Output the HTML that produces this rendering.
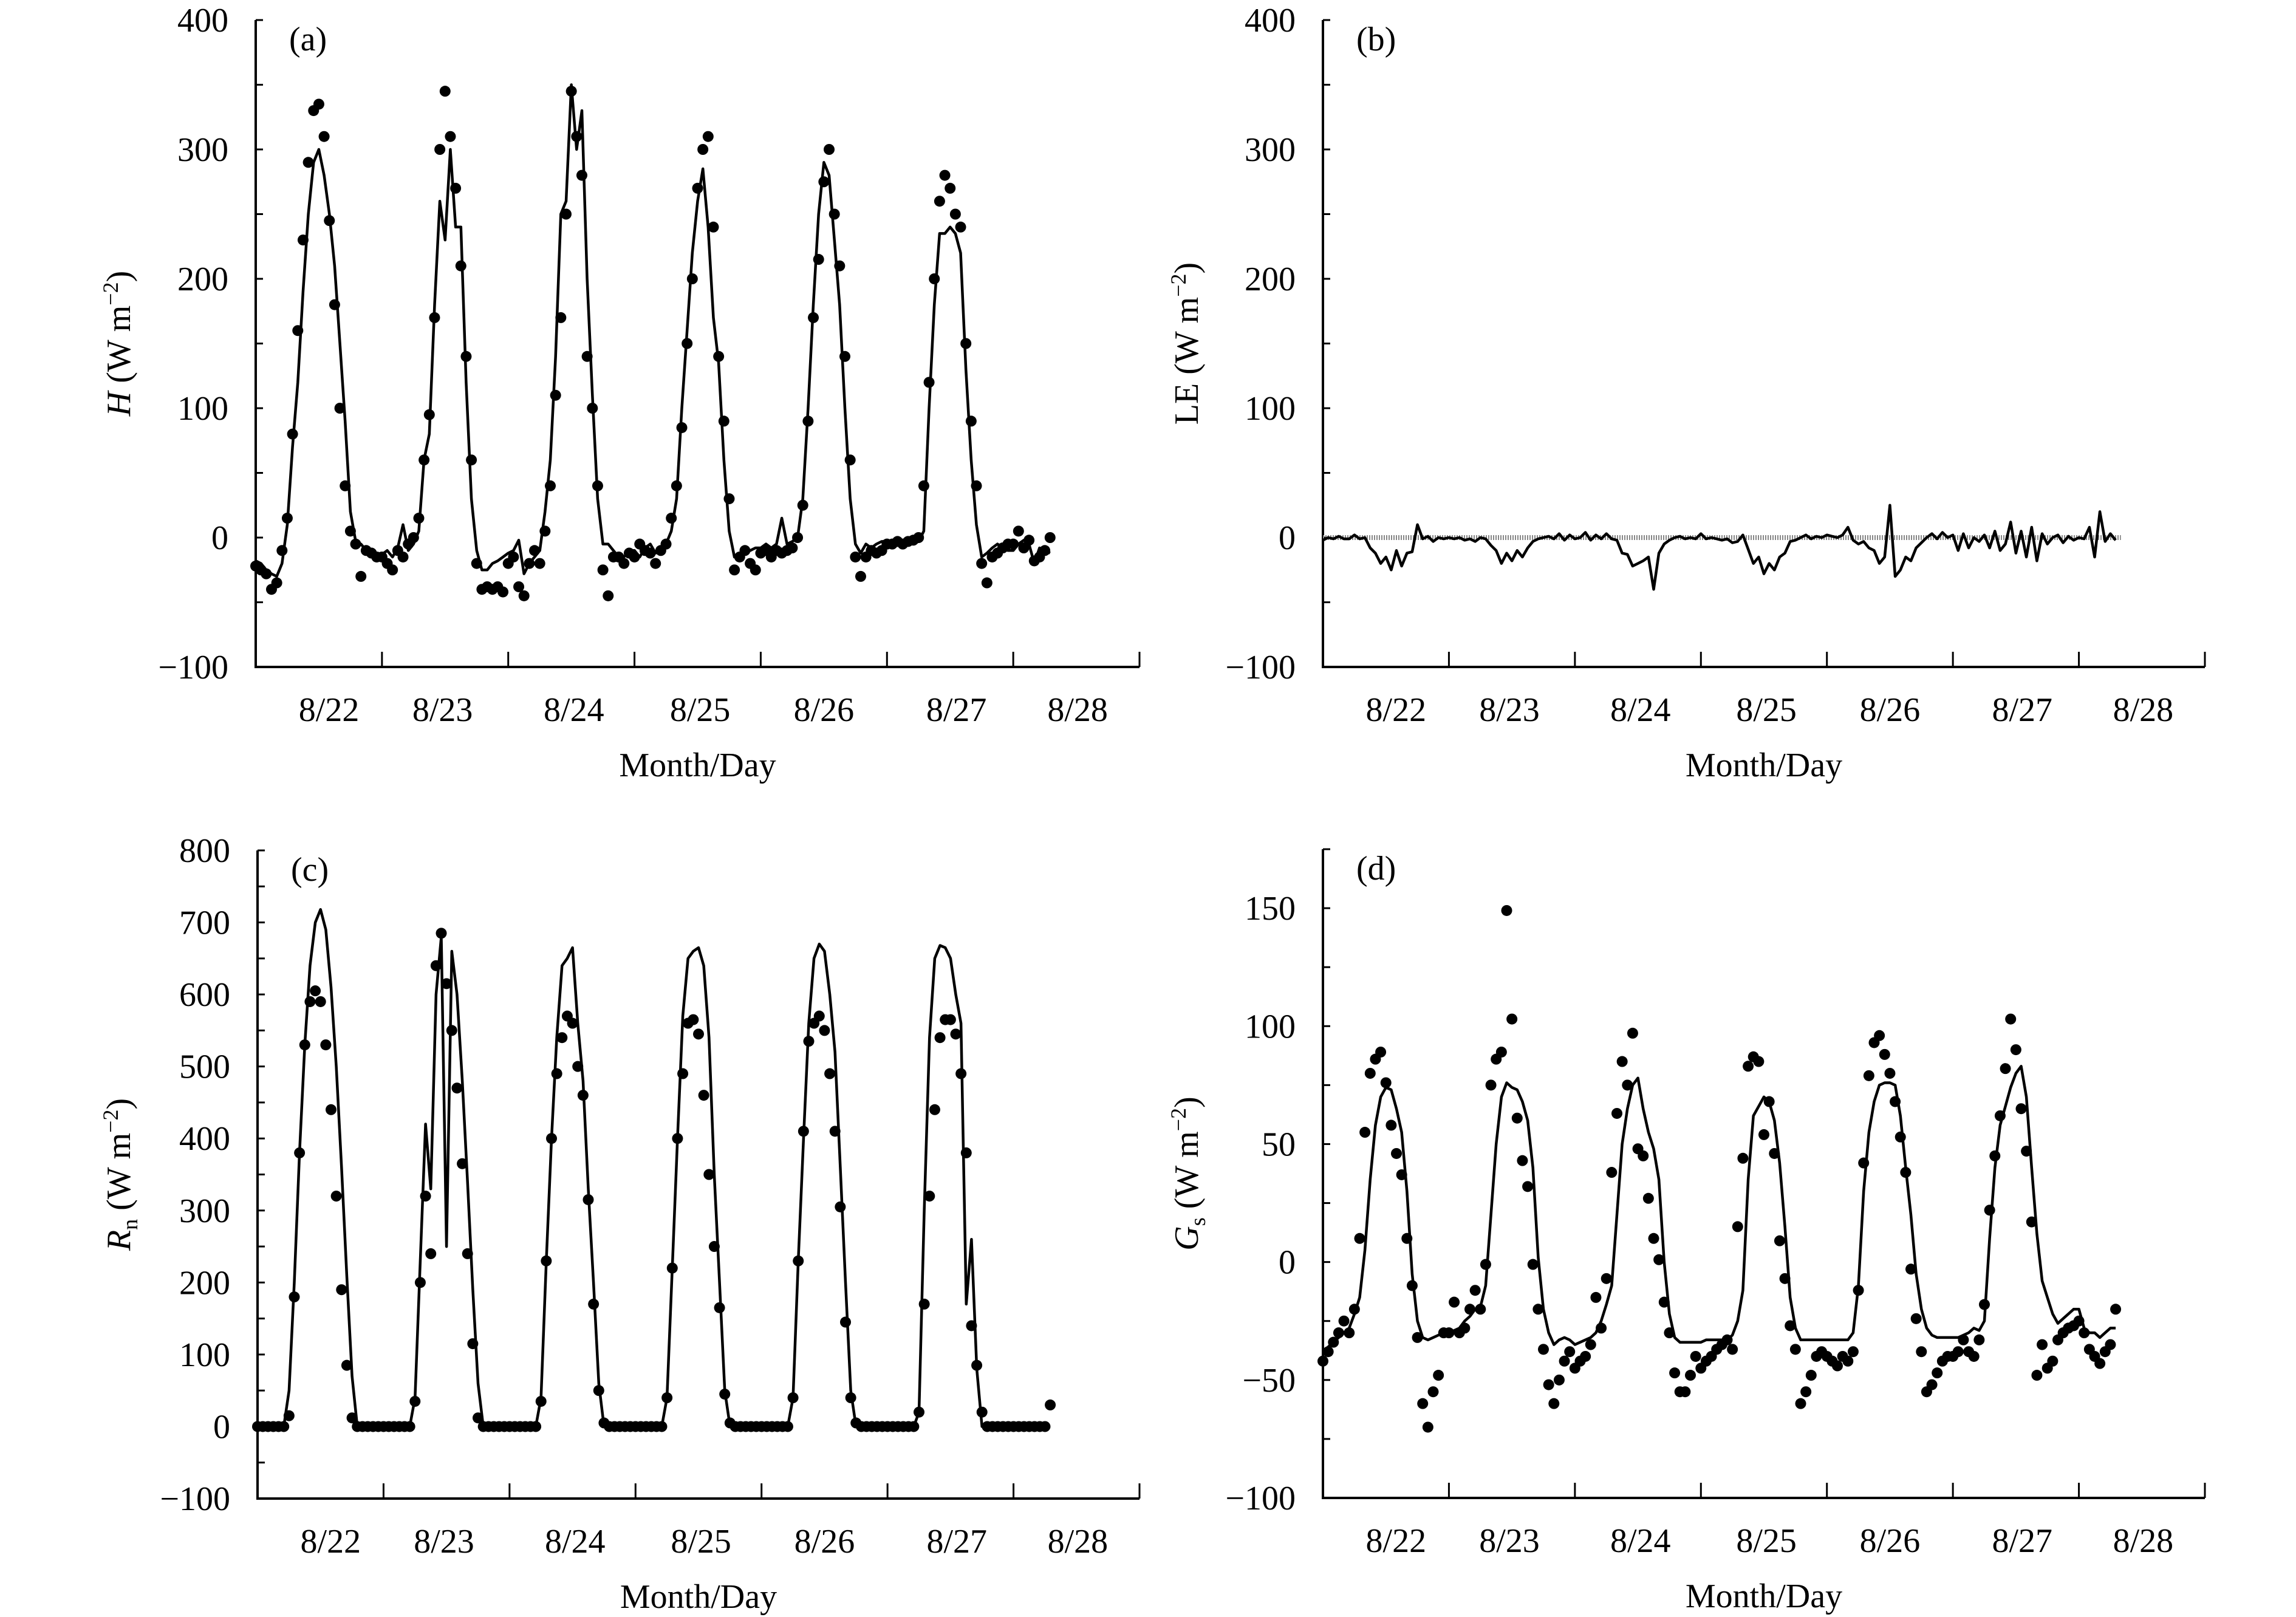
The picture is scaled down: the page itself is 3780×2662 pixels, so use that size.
<!DOCTYPE html>
<html><head><meta charset="utf-8"><title>Energy flux panels</title>
<style>
html,body{margin:0;padding:0;background:#fff;}
svg{display:block;font-family:"Liberation Serif",serif;}
</style></head>
<body>
<svg id="fig" xmlns="http://www.w3.org/2000/svg" width="3780" height="2662" viewBox="0 0 3780 2662"></svg>
<script>
// ---------- data (hourly, t = index/24 days from axis start) ----------
const dayLabels = ["8/22","8/23","8/24","8/25","8/26","8/27","8/28"];
const hLine = [
-18,-20,-25,-28,-30,-20,10,70,120,190,250,290,300,280,250,210,150,90,20,-3,-5,-10,-12,-14,
-13,-10,-15,-8,10,-10,-5,5,60,80,180,260,230,300,240,240,120,30,-10,-25,-25,-20,-18,-15,
-12,-10,-2,-28,-20,-15,-10,20,60,140,250,260,350,300,330,200,110,30,-5,-5,-10,-15,-15,-10,
-10,-15,-8,-5,-12,-10,-5,5,30,100,160,220,260,285,240,170,135,60,5,-15,-15,-12,-10,-8,
-8,-5,-8,-5,15,-5,-3,0,30,100,180,250,290,280,230,180,100,30,-5,-12,-5,-8,-5,-3,
-3,-5,-3,-5,-3,-5,-3,5,100,180,235,235,240,235,220,130,60,10,-15,-12,-8,-5,-8,-10,
-10,-5,-2,-5,-20,-8,-10,-12];
const hDots = [
-22,-25,-28,-40,-35,-10,15,80,160,230,290,330,335,310,245,180,100,40,5,-5,-30,-10,-12,-15,
-15,-20,-25,-10,-15,-5,0,15,60,95,170,300,345,310,270,210,140,60,-20,-40,-38,-40,-38,-42,
-20,-15,-38,-45,-20,-10,-20,5,40,110,170,250,345,310,280,140,100,40,-25,-45,-15,-15,-20,-12,
-15,-5,-10,-12,-20,-10,-5,15,40,85,150,200,270,300,310,240,140,90,30,-25,-15,-10,-20,-25,
-12,-10,-15,-10,-12,-10,-8,0,25,90,170,215,275,300,250,210,140,60,-15,-30,-15,-10,-12,-10,
-5,-5,-3,-5,-3,-2,0,40,120,200,260,280,270,250,240,150,90,40,-20,-35,-15,-12,-8,-5,
-5,5,-8,-2,-18,-15,-10,0];
const leLine = [
-2,0,-1,1,-1,-1,2,-1,0,-8,-12,-20,-15,-25,-10,-22,-12,-11,10,-1,1,-3,0,-1,
0,-1,0,-2,-1,-3,0,-1,-6,-10,-20,-12,-18,-10,-15,-8,-3,-1,0,1,-1,3,-2,2,
-1,0,4,-2,2,-1,3,-1,-2,-12,-13,-22,-20,-18,-15,-40,-12,-5,-2,0,1,-1,0,-1,
3,-1,0,-1,-2,-1,-4,-3,2,-9,-20,-15,-28,-20,-25,-15,-12,-3,-2,0,2,-1,1,0,
2,1,0,2,8,-2,-5,-3,-8,-10,-20,-15,25,-30,-25,-15,-18,-8,-4,0,3,-1,4,0,
2,-10,3,-8,0,-3,2,-8,5,-10,-5,12,-12,5,-15,8,-18,3,-5,0,2,-4,1,-2,
0,-1,8,-15,20,-3,3,-2];
const rnLine = [
0,0,0,0,0,0,50,200,380,530,640,700,718,690,610,500,360,210,70,0,0,0,0,0,
0,0,0,0,0,0,40,230,420,330,600,680,250,660,600,480,340,190,60,0,0,0,0,0,
0,0,0,0,0,0,40,230,400,540,640,650,665,560,480,330,200,60,0,0,0,0,0,0,
0,0,0,0,0,0,40,220,400,570,650,660,665,640,540,350,200,50,0,0,0,0,0,0,
0,0,0,0,0,0,40,230,400,560,650,670,660,600,520,360,200,50,0,0,0,0,0,0,
0,0,0,0,0,0,20,300,540,650,668,665,650,600,560,170,260,80,0,0,0,0,0,0,
0,0,0,0,0,0,0,0];
const rnDots = [
0,0,0,0,0,0,15,180,380,530,590,605,590,530,440,320,190,85,12,0,0,0,0,0,
0,0,0,0,0,0,35,200,320,240,640,685,615,550,470,365,240,115,12,0,0,0,0,0,
0,0,0,0,0,0,35,230,400,490,540,570,560,500,460,315,170,50,5,0,0,0,0,0,
0,0,0,0,0,0,40,220,400,490,560,565,545,460,350,250,165,45,5,0,0,0,0,0,
0,0,0,0,0,0,40,230,410,535,560,570,550,490,410,305,145,40,5,0,0,0,0,0,
0,0,0,0,0,0,20,170,320,440,540,565,565,545,490,380,140,85,20,0,0,0,0,0,
0,0,0,0,0,0,0,30];
const gsLine = [
-38,-36,-34,-32,-30,-28,-22,-15,5,35,58,70,74,73,65,55,30,-5,-25,-32,-33,-32,-31,-30,
-30,-29,-28,-25,-23,-20,-19,-10,20,50,70,76,74,73,68,60,40,2,-20,-30,-35,-33,-32,-33,
-35,-34,-33,-32,-30,-25,-18,-10,20,50,65,75,78,65,55,48,35,0,-22,-32,-34,-34,-34,-34,
-34,-33,-33,-33,-33,-33,-31,-25,-12,35,62,66,70,68,60,42,15,-15,-28,-33,-33,-33,-33,-33,
-33,-33,-33,-33,-33,-30,-10,30,55,68,75,76,76,75,62,40,20,-5,-20,-28,-31,-32,-32,-32,
-32,-32,-31,-30,-28,-29,-25,10,40,58,66,74,80,83,70,40,12,-8,-15,-22,-26,-24,-22,-20,
-20,-28,-30,-30,-32,-30,-28,-28];
const gsDots = [
-42,-38,-34,-30,-25,-30,-20,10,55,80,86,89,76,58,46,37,10,-10,-32,-60,-70,-55,-48,-30,
-30,-17,-30,-28,-20,-12,-20,-1,75,86,89,149,103,61,43,32,-1,-20,-37,-52,-60,-50,-42,-38,
-45,-42,-40,-35,-15,-28,-7,38,63,85,75,97,48,45,27,10,1,-17,-30,-47,-55,-55,-48,-40,
-45,-42,-40,-37,-35,-33,-37,15,44,83,87,85,54,68,46,9,-7,-27,-37,-60,-55,-48,-40,-38,
-40,-42,-44,-40,-42,-38,-12,42,79,93,96,88,80,68,53,38,-3,-24,-38,-55,-52,-47,-42,-40,
-40,-38,-33,-38,-40,-33,-18,22,45,62,82,103,90,65,47,17,-48,-35,-45,-42,-33,-30,-28,-27,
-25,-30,-37,-40,-43,-38,-35,-20];
const aTicks = [-100,0,100,200,300,400];
const cTicks = [-100,0,100,200,300,400,500,600,700,800];
const dTicks = [-100,-50,0,50,100,150];

// ---------- drawing ----------
const NS = "http://www.w3.org/2000/svg";
const svg = document.getElementById("fig");
const labelPos = [0.58,1.48,2.52,3.52,4.5,5.55,6.51];
function mk(tag, attrs, parent){
  const e = document.createElementNS(NS, tag);
  for (const k in attrs) e.setAttribute(k, attrs[k]);
  (parent||svg).appendChild(e);
  return e;
}
function panel(cfg){
  const g = mk("g", {});
  
  
  const L=cfg.L,R=cfg.R,T=cfg.T,B=cfg.B;
  const xs = d => L + d/7*(R-L);
  const ys = v => B - (v-cfg.min)/(cfg.max-cfg.min)*(B-T);
  const ax = mk("path", {d:`M${L},${T} L${L},${B} L${R},${B}`, fill:"none", stroke:"#000", "stroke-width":4}, g);
  
  
  for (let v=cfg.min; v<=cfg.max+1e-9; v+=cfg.minor){
    const tk = mk("line", {x1:L, x2:L+12, y1:ys(v), y2:ys(v), stroke:"#000", "stroke-width":3}, g);
    
    
  }
  cfg.ticks.forEach(v=>{
    const t = mk("text", {x:L-45, y:ys(v)+19, "text-anchor":"end", "font-size":56}, g);
    t.textContent = v<0 ? "\u2212"+(-v) : String(v);
    
    
  });
  for (let d=1; d<=7; d++){
    const tk = mk("line", {x1:xs(d), x2:xs(d), y1:B, y2:B-25, stroke:"#000", "stroke-width":3}, g);
    
    
  }
  dayLabels.forEach((s,i)=>{
    const t = mk("text", {x:xs(labelPos[i]), y:B+89, "text-anchor":"middle", "font-size":56}, g);
    t.textContent = s;
    
    
  });
  const xt = mk("text", {x:(L+R)/2, y:B+180, "text-anchor":"middle", "font-size":56}, g);
  xt.textContent = "Month/Day";
  
  
  const yt = mk("text", {x:0, y:0, "text-anchor":"middle", "font-size":56, transform:`translate(${cfg.ytx},${(T+B)/2}) rotate(-90)`}, g);
  yt.innerHTML = cfg.ytitle;
  
  
  const pl = mk("text", {x:L+55, y:T+50, "font-size":56}, g);
  pl.textContent = cfg.tag;
  
  
  if (cfg.zero){
    const z = mk("line", {x1:xs(0), x2:xs(cfg.line.length/24), y1:ys(0), y2:ys(0), stroke:"#888", "stroke-width":8, "stroke-dasharray":"2,2"}, g);
    
    
  }
  if (cfg.line){
    const pts = cfg.line.map((v,i)=>xs(i/24).toFixed(1)+","+ys(v).toFixed(1)).join(" ");
    const pl2 = mk("polyline", {points:pts, fill:"none", stroke:"#000", "stroke-width":4.5, "stroke-linejoin":"round"}, g);
    
    
  }
  if (cfg.dots){
    cfg.dots.forEach((v,i)=>{
      const c = mk("circle", {cx:xs(i/24), cy:ys(v), r:9, fill:"#000"}, g);
      
      
    });
  }
}
panel({name:"panel-a", tag:"(a)", L:421,R:1876,T:33,B:1098,min:-100,max:400,minor:50,ticks:aTicks,
  ytx:214, ytitle:'<tspan font-style="italic">H</tspan> (W m<tspan dy="-20" font-size="36">\u22122</tspan><tspan dy="20">)</tspan>',
  line:hLine, dots:hDots});
panel({name:"panel-b", tag:"(b)", L:2178,R:3630,T:33,B:1098,min:-100,max:400,minor:50,ticks:aTicks,
  ytx:1972, ytitle:'LE (W m<tspan dy="-20" font-size="36">\u22122</tspan><tspan dy="20">)</tspan>',
  line:leLine, zero:true});
panel({name:"panel-c", tag:"(c)", L:424,R:1876,T:1400,B:2467,min:-100,max:800,minor:50,ticks:cTicks,
  ytx:214, ytitle:'<tspan font-style="italic">R</tspan><tspan dy="12" font-size="36">n</tspan><tspan dy="-12"> (W m</tspan><tspan dy="-20" font-size="36">\u22122</tspan><tspan dy="20">)</tspan>',
  line:rnLine, dots:rnDots});
panel({name:"panel-d", tag:"(d)", L:2178,R:3630,T:1398,B:2466,min:-100,max:175,minor:25,ticks:dTicks,
  ytx:1972, ytitle:'<tspan font-style="italic">G</tspan><tspan dy="12" font-size="36">s</tspan><tspan dy="-12"> (W m</tspan><tspan dy="-20" font-size="36">\u22122</tspan><tspan dy="20">)</tspan>',
  line:gsLine, dots:gsDots});
</script>
</body></html>
